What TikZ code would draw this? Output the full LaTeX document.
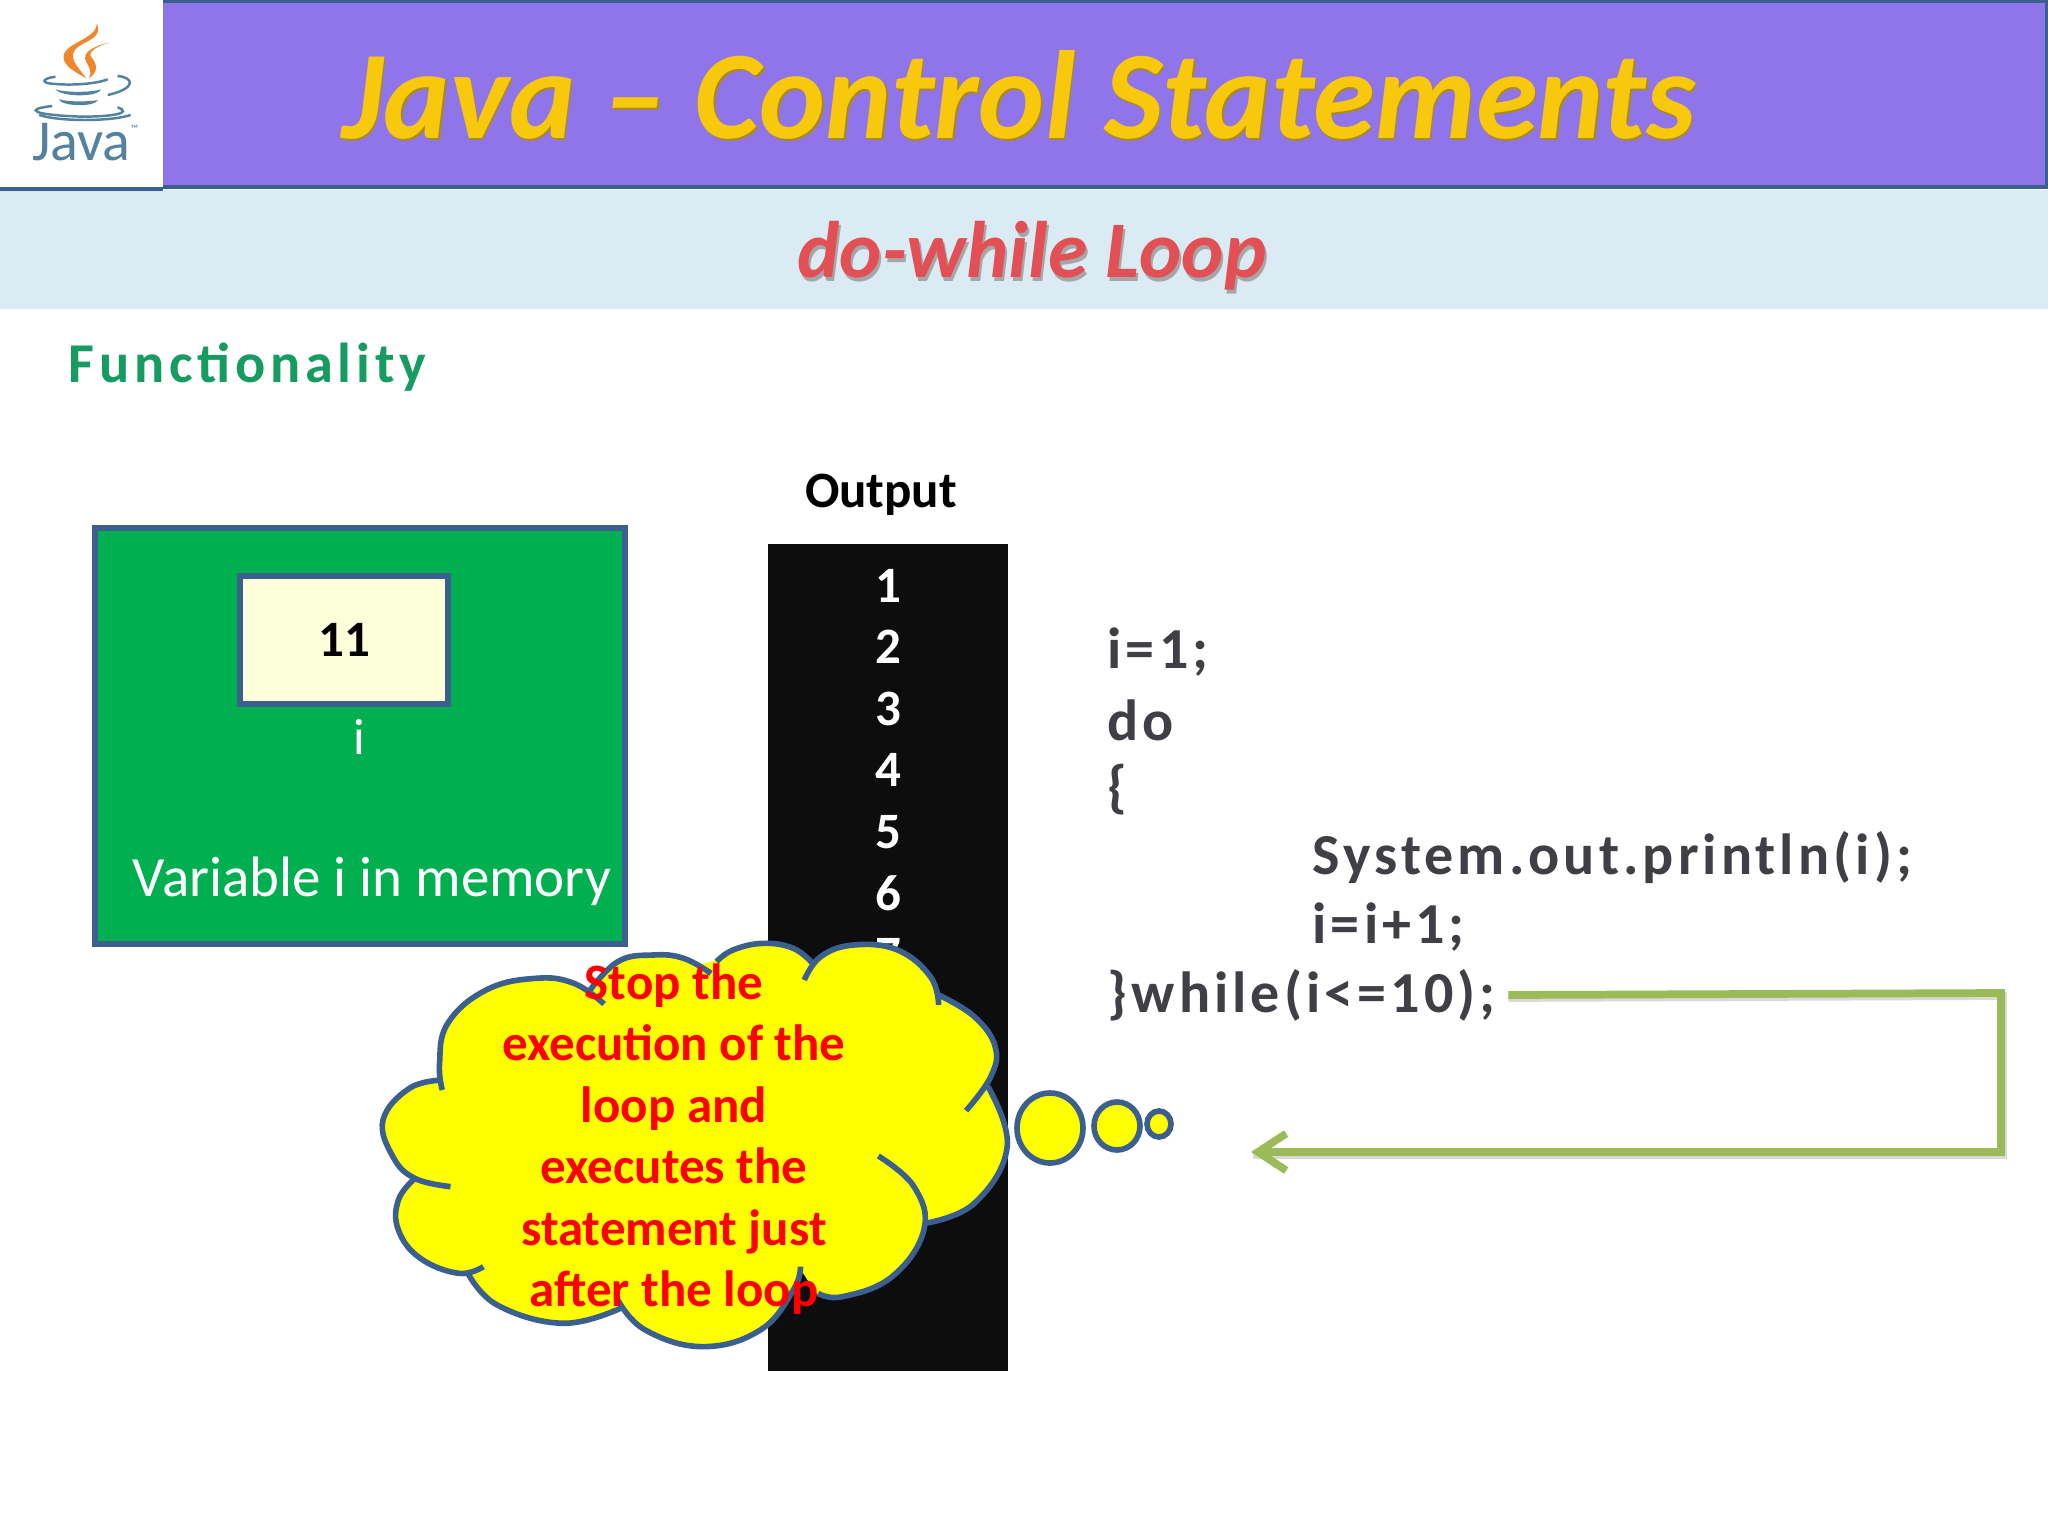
\documentclass[tikz,border=0pt]{standalone}
\usepackage{fontspec}
\usepackage{xcolor}
\setmainfont{Carlito}
\newfontfamily\codefont[LetterSpace=7]{Carlito}
\newfontfamily\headfont[LetterSpace=8.5]{Carlito}
\usetikzlibrary{arrows.meta}
\newcommand{\pxfont}[1]{\fontsize{#1}{#1}\selectfont}
\newcommand{\cloudlobes}[1]{
    \path[#1] plot[smooth, tension=.7] coordinates {(150,540) (90,565) (42,660) (60,770) (100,835) (165,860)};
    \path[#1] plot[smooth, tension=.7] coordinates {(100,835) (70,900) (70,990) (110,1075) (180,1120) (225,1100)};
    \path[#1] plot[smooth, tension=.7] coordinates {(195,1115) (250,1215) (370,1270) (475,1225)};
    \path[#1] plot[smooth, tension=.7] coordinates {(470,1200) (520,1290) (625,1340) (730,1290) (790,1170) (803,1100)};
    \path[#1] plot[smooth, tension=.7] coordinates {(835,1180) (880,1190) (970,1130) (1028,990) (1010,860) (945,768)};
    \path[#1] plot[smooth, tension=.7] coordinates {(1030,970) (1120,910) (1180,740) (1145,560)};
    \path[#1] plot[smooth, tension=.7] coordinates {(1105,632) (1150,530) (1158,440) (1120,350) (1055,285)};
    \path[#1] plot[smooth, tension=.7] coordinates {(1055,315) (1040,230) (980,150) (900,135) (840,170) (810,240)};
    \path[#1] plot[smooth, tension=.7] coordinates {(825,190) (790,145) (735,130) (680,150) (650,185)};
    \path[#1] plot[smooth, tension=.7] coordinates {(640,220) (590,175) (535,165) (470,185) (415,280)};
    \path[#1] plot[smooth, tension=.7] coordinates {(445,312) (390,250) (320,235) (230,270) (160,370) (145,490) (150,570)};
}
\definecolor{bandpurple}{HTML}{9075EA}
\definecolor{bandblue}{HTML}{DAEBF3}
\definecolor{edgeblue}{HTML}{3B6090}
\definecolor{boxgreen}{HTML}{00B050}
\definecolor{boxcream}{HTML}{FCFFD9}
\definecolor{loopgreen}{HTML}{9BBB59}
\definecolor{javablue}{HTML}{5382A1}
\definecolor{javaorange}{HTML}{F0862A}
\definecolor{codegray}{HTML}{3F3F45}
\definecolor{cloudyellow}{RGB}{255,255,0}
\definecolor{cloudred}{RGB}{255,0,0}
\definecolor{titlegold}{HTML}{F8C80C}
\definecolor{titleshadow}{HTML}{A98A20}
\definecolor{subred}{HTML}{E24F55}
\definecolor{funcgreen}{HTML}{169B62}
\tikzset{
    cloudline/.style={draw=edgeblue, line width=1.6pt},
    cloudfill/.style={fill=cloudyellow, draw=cloudyellow, line width=.8pt},
    outnum/.style={text=white, font=\pxfont{14.5pt}\bfseries},
    codeline/.style={anchor=west, inner sep=0pt, text=codegray, font=\codefont\pxfont{16.5pt}\bfseries},
    looparrow/.style={draw=loopgreen, line width=2.2pt},
    loopshade/.style={draw=gray!30, line width=2.2pt}
}
\begin{document}
\begin{tikzpicture}[x=0.01cm, y=-0.01cm]
    \useasboundingbox (0,0) rectangle (2048,1536);
    \fill[white] (0,0) rectangle (2048,1536);

    % top bands
    \fill[bandblue] (0,190) rectangle (2048,309);
    \fill[bandpurple] (163,0) rectangle (2048,187);
    \draw[edgeblue, line width=1.1pt] (163,1.5) -- (2046.5,1.5) -- (2046.5,187) -- (163,187);
    \draw[edgeblue, line width=1pt] (0,189) -- (163,189);

    % java logo
    \begin{scope}[xscale=.653, yscale=.3333]
        \fill[javaorange] (148,70) .. controls (150,120) and (90,130) .. (98,180) .. controls (102,205) and (120,220) .. (132,235) .. controls (120,200) and (100,170) .. (120,140) .. controls (135,120) and (158,110) .. (148,70);
        \fill[javaorange] (168,127) .. controls (140,140) and (125,160) .. (132,185) .. controls (136,200) and (142,215) .. (136,235) .. controls (152,215) and (148,190) .. (140,172) .. controls (133,155) and (150,138) .. (168,127);
        \draw[javablue, line width=.7pt] (85,230) .. controls (65,235) and (60,250) .. (85,252) .. controls (115,257) and (150,250) .. (165,238);
        \draw[javablue, line width=.7pt] (180,228) .. controls (205,232) and (210,265) .. (165,285);
        \fill[javablue] (85,268) .. controls (100,278) and (140,278) .. (155,268) .. controls (150,292) and (95,292) .. (85,268);
        \fill[javablue] (90,298) .. controls (105,306) and (135,306) .. (150,300) .. controls (145,322) and (95,320) .. (90,298);
        \draw[javablue, line width=.7pt] (80,318) .. controls (35,328) and (50,345) .. (125,350) .. controls (170,350) and (205,340) .. (180,322);
        \draw[javablue, line width=.7pt] (60,345) .. controls (90,365) and (170,365) .. (200,345);
    \end{scope}
    \node[text=javablue, inner sep=0pt, font=\pxfont{16.5pt}] (javaword) at (85,142) {Java{\pxfont{3pt}\raisebox{8pt}{™}}};

    % titles
    \node[text=titleshadow, font=\pxfont{35.7pt}\bfseries\itshape] (titleshade) at (1020.5,96.5) {Java – Control Statements};
    \node[text=titlegold, font=\pxfont{35.7pt}\bfseries\itshape] (titletext) at (1019,95) {Java – Control Statements};
    \node[text=gray!70, font=\pxfont{22.8pt}\bfseries\itshape] (subshade) at (1034,260) {do-while Loop};
    \node[text=subred, font=\pxfont{22.8pt}\bfseries\itshape] (subtext) at (1032,256) {do-while Loop};
    \node[anchor=west, inner sep=0pt, text=funcgreen, font=\headfont\pxfont{16pt}\bfseries] (functext) at (68,367) {Functionality};

    % variable box
    \draw[fill=boxgreen, draw=edgeblue, line width=1.6pt] (95,528) rectangle (625,944);
    \node[draw=edgeblue, fill=boxcream, line width=1.6pt, minimum width=2.08cm, minimum height=1.28cm, inner sep=0pt, font=\pxfont{14.5pt}\bfseries] (varbox) at (344,640) {11};
    \node[text=white, font=\pxfont{14.5pt}] (varname) at (359,737) {i};
    \node[text=white, font=\pxfont{16.2pt}] (varcaption) at (372,881) {Variable i in memory};

    % output column
    \node[font=\pxfont{14.5pt}\bfseries] (outtitle) at (881,495) {Output};
    \fill[black!95] (768,544) rectangle (1008,1371);
    \foreach \n/\ypos in {1/586, 2/647, 3/709, 4/770, 5/832, 6/893, 7/955} {
        \node[outnum] (out\n) at (888,\ypos) {\n};
    }

    % code
    \node[codeline] (codea) at (1107,652) {i=1;};
    \node[codeline] (codeb) at (1107,720) {do};
    \node[codeline] (codec) at (1107,790) {\{};
    \node[codeline] (coded) at (1312,858) {System.out.println(i);};
    \node[codeline] (codee) at (1312,927) {i=i+1;};
    \node[codeline] (whileline) at (1107,995) {\}while(i<=10);};

    % loop arrow
    \coordinate (cornertop) at (2001,993);
    \coordinate (cornerbot) at (2001,1152);
    \coordinate (loopend) at (1251,1152);
    \draw[loopshade] ([shift={(12,3)}]whileline.east) -- ([shift={(2,3)}]cornertop) -- ([shift={(2,3)}]cornerbot) -- ([shift={(2,3)}]loopend);
    \draw[looparrow, -{Straight Barb[length=8pt, width=10.5pt, line width=2.2pt]}] ([shift={(12,0)}]whileline.east) -- (cornertop) -- (cornerbot) -- (loopend);

    % cloud
    \begin{scope}[shift={(360,900)}, xscale=.5485, yscale=.3333]
        \path[cloudfill] (150,570) -- (100,835) -- (195,1115) -- (475,1225) -- (803,1100) -- (835,1180) -- (1030,970) -- (1145,560) -- (1055,285) -- (825,190) -- (650,185) -- (415,280) -- (445,312) -- cycle;
        \cloudlobes{cloudfill}
        \cloudlobes{cloudline}
    \end{scope}
    \draw[cloudline, fill=cloudyellow] (1050,1128) ellipse (33 and 35);
    \draw[cloudline, fill=cloudyellow] (1117,1126) ellipse (23 and 24);
    \draw[cloudline, fill=cloudyellow] (1159,1124) ellipse (12 and 13);

    \node[text=cloudred, align=center, font=\fontsize{14.5pt}{17.47pt}\selectfont\bfseries, inner sep=0pt] (cloudtext) at (674,1139) {Stop the\\execution of the\\loop and\\executes the\\statement just\\after the loop};
\end{tikzpicture}
\end{document}
